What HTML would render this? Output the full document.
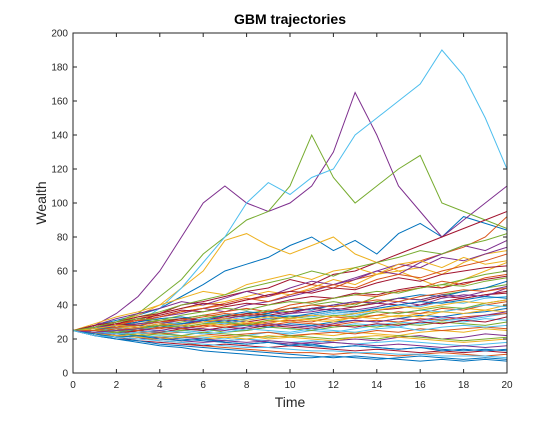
<!DOCTYPE html>
<html><head><meta charset="utf-8"><style>
body{margin:0;background:#fff;font-family:"Liberation Sans",sans-serif}
</style></head><body>
<svg id="chart" width="560" height="420" xmlns="http://www.w3.org/2000/svg">
<rect x="0" y="0" width="560" height="420" fill="#fff"/>
<text x="290" y="24" text-anchor="middle" font-size="14" font-weight="bold" fill="#000">GBM trajectories</text>
<g id="paths"></g>
<g id="axes"></g>
<text x="290" y="407" text-anchor="middle" font-size="14" fill="#262626">Time</text>
<text x="0" y="0" transform="translate(46,203) rotate(-90)" text-anchor="middle" font-size="14" fill="#262626">Wealth</text>
</svg>
<script>
const times = [0,1,2,3,4,5,6,7,8,9,10,11,12,13,14,15,16,17,18,19,20];
const xTicks = [0,2,4,6,8,10,12,14,16,18,20];
const yTicks = [0,20,40,60,80,100,120,140,160,180,200];
const colors = ["#0072BD","#D95319","#EDB120","#7E2F8E","#77AC30","#4DBEEE","#A2142F"];
const series = [
[25,28,31,34,38,45,52,60,64,68,75,80,72,78,70,82,88,80,92,88,84],
[25,27,29,31,33,36,38,40,43,45,48,52,50,55,58,62,66,70,74,80,92],
[25,28,30,34,40,50,60,78,82,75,70,75,80,70,65,60,55,50,55,60,65],
[25,28,35,45,60,80,100,110,100,95,100,110,130,165,140,110,95,80,90,100,110],
[25,27,30,35,45,55,70,80,90,95,110,140,115,100,110,120,128,100,95,90,85],
[25,24,27,30,38,50,65,80,100,112,105,115,120,140,150,160,170,190,175,150,120],
[25,25,28,30,35,40,42,45,48,50,55,52,58,60,65,70,75,80,85,90,95],
[25,22,20,18,16,15,13,12,11,10,9,9,10,9,8,9,10,9,8,9,8],
[25,24,22,21,19,18,16,15,14,13,12,12,11,12,11,10,11,12,11,10,11],
[25,27,30,32,35,38,40,42,45,48,46,50,55,52,58,60,62,58,65,70,72],
[25,26,28,30,33,35,38,36,40,42,45,48,52,55,60,58,65,70,75,72,78],
[25,24,25,27,28,30,32,34,33,35,38,40,42,40,45,48,50,52,55,58,60],
[25,23,22,23,24,22,21,20,22,24,23,25,24,26,28,27,30,32,31,33,35],
[25,26,27,26,28,29,30,31,30,32,33,34,36,35,37,38,40,42,44,46,48],
[25,24,23,22,21,20,19,18,17,18,17,16,15,16,15,14,15,14,13,14,13],
[25,27,29,31,30,32,34,36,38,36,40,42,44,46,45,48,50,54,52,56,58],
[25,25,24,26,27,26,28,30,29,31,30,32,31,33,34,33,35,36,38,37,40],
[25,23,21,20,21,19,18,19,20,18,17,18,19,20,19,21,22,20,21,23,22],
[25,26,28,29,31,32,34,33,35,37,36,38,40,39,42,44,43,46,48,50,52],
[25,24,24,23,24,25,24,26,25,27,26,28,27,29,28,30,29,31,30,32,31],
[25,22,21,19,18,17,16,17,16,15,16,15,14,13,14,13,12,13,12,13,12],
[25,27,28,30,32,33,31,34,36,35,38,37,40,42,41,44,46,45,48,50,54],
[25,26,25,27,26,28,27,29,28,30,31,30,33,32,34,36,35,38,37,40,42],
[25,24,22,23,21,22,20,21,22,20,21,23,22,24,23,22,24,25,24,26,25],
[25,28,32,35,38,42,40,44,48,45,50,54,52,56,60,64,62,68,66,70,74],
[25,25,26,25,24,25,26,24,25,27,26,25,27,28,27,29,28,30,29,28,30],
[25,23,22,21,22,21,20,19,20,19,18,19,18,17,18,19,18,17,16,17,18],
[25,27,29,28,30,32,31,33,35,34,36,38,37,39,41,40,42,45,44,46,47],
[25,26,24,25,27,26,25,27,28,27,29,28,30,31,30,32,34,33,35,36,38],
[25,24,25,24,23,24,23,22,23,24,22,23,24,23,25,24,26,25,26,27,26],
[25,29,33,36,40,44,48,46,52,55,58,55,60,62,58,64,66,62,68,64,66],
[25,26,27,29,30,29,31,32,34,33,35,36,38,37,39,42,40,44,46,45,50],
[25,23,24,22,23,22,24,23,22,21,22,21,20,21,20,22,21,20,19,20,21],
[25,27,26,28,30,29,32,31,33,32,34,33,35,34,36,35,37,36,38,40,39],
[25,24,23,25,24,26,25,27,26,28,27,26,28,27,29,28,30,29,31,30,33],
[25,22,20,19,17,16,15,14,13,12,11,10,9,10,9,8,7,8,7,8,7],
[25,26,28,31,33,36,38,41,44,42,46,49,52,50,55,58,56,60,63,66,70],
[25,25,27,26,28,27,29,28,30,29,32,31,30,33,32,34,33,36,35,37,36],
[25,24,22,21,20,21,20,19,18,19,18,17,18,17,16,17,16,15,16,15,16],
[25,27,30,33,36,40,43,46,50,53,56,60,57,62,65,68,72,70,75,78,82],
[25,26,25,26,27,28,30,29,31,33,32,34,36,35,38,40,39,42,41,44,45],
[25,27,29,32,34,37,36,39,41,40,43,45,44,47,46,49,51,50,53,55,57],
[25,26,27,28,27,29,31,30,32,34,33,35,37,36,38,40,42,41,43,45,44],
[25,24,26,25,27,26,28,27,29,28,30,29,28,30,31,30,32,31,33,34,35],
[25,23,22,21,20,21,22,21,20,22,21,20,19,21,22,21,20,19,18,19,20],
[25,27,28,27,29,31,30,32,34,36,35,38,40,42,41,44,43,46,45,48,51],
[25,26,24,26,28,27,29,30,28,31,33,32,34,33,36,35,37,39,38,41,43],
[25,24,23,24,25,24,23,24,26,25,24,26,25,24,26,27,25,27,28,27,28],
[25,28,30,33,35,38,41,40,43,46,48,47,50,49,53,56,54,58,60,62,63],
[25,23,21,22,20,19,20,18,17,18,16,17,15,16,15,14,15,13,14,13,14],
[25,25,27,28,30,31,33,35,34,36,38,40,39,41,43,42,45,47,49,48,50],
[25,26,28,27,29,28,30,32,31,33,32,34,33,35,37,39,38,40,42,41,43],
[25,24,25,26,25,27,26,25,27,29,28,27,29,31,30,32,31,33,32,34,36],
[25,27,30,32,31,34,36,38,37,40,42,41,44,46,48,47,50,52,51,54,56],
[25,22,21,20,19,18,17,16,15,15,14,13,13,12,12,11,11,10,10,10,9]
];
const X0=73,X1=507,Y0=373,Y1=33;
const xs=t=>X0+(t-0)/(20-0)*(X1-X0);
const ys=v=>Y0-(v-0)/(200-0)*(Y0-Y1);
const NS="http://www.w3.org/2000/svg";
const pg=document.getElementById('paths');
const ax=document.getElementById('axes');
const cp=document.createElementNS(NS,'clipPath');cp.setAttribute('id','clip');
const cr=document.createElementNS(NS,'rect');cr.setAttribute('x',X0);cr.setAttribute('y',Y1);cr.setAttribute('width',X1-X0);cr.setAttribute('height',Y0-Y1);
cp.appendChild(cr);document.getElementById('chart').appendChild(cp);
pg.setAttribute('clip-path','url(#clip)');
series.forEach((s,i)=>{
  const p=document.createElementNS(NS,'polyline');
  p.setAttribute('points',s.map((v,j)=>xs(times[j]).toFixed(1)+','+ys(v).toFixed(1)).join(' '));
  p.setAttribute('fill','none');p.setAttribute('stroke',colors[i%colors.length]);p.setAttribute('stroke-width','1');
  
  
  pg.appendChild(p);
});
const box=document.createElementNS(NS,'rect');
box.setAttribute('x',X0);box.setAttribute('y',Y1);box.setAttribute('width',X1-X0);box.setAttribute('height',Y0-Y1);
box.setAttribute('fill','none');box.setAttribute('stroke','#262626');box.setAttribute('stroke-width','1');


ax.appendChild(box);
xTicks.forEach(t=>{
  const l=document.createElementNS(NS,'path');
  l.setAttribute('d',`M${xs(t)},${Y0}v-4M${xs(t)},${Y1}v4`);l.setAttribute('stroke','#262626');
  
  
  ax.appendChild(l);
  const tx=document.createElementNS(NS,'text');
  tx.setAttribute('x',xs(t));tx.setAttribute('y',Y0+15);tx.setAttribute('text-anchor','middle');tx.setAttribute('font-size','10');tx.setAttribute('fill','#262626');
  tx.textContent=t;
  
  
  ax.appendChild(tx);
});
yTicks.forEach(v=>{
  const l=document.createElementNS(NS,'path');
  l.setAttribute('d',`M${X0},${ys(v)}h4M${X1},${ys(v)}h-4`);l.setAttribute('stroke','#262626');
  
  
  ax.appendChild(l);
  const tx=document.createElementNS(NS,'text');
  tx.setAttribute('x',X0-5);tx.setAttribute('y',ys(v)+3.5);tx.setAttribute('text-anchor','end');tx.setAttribute('font-size','10');tx.setAttribute('fill','#262626');
  tx.textContent=v;
  
  
  ax.appendChild(tx);
});
</script>
</body></html>
